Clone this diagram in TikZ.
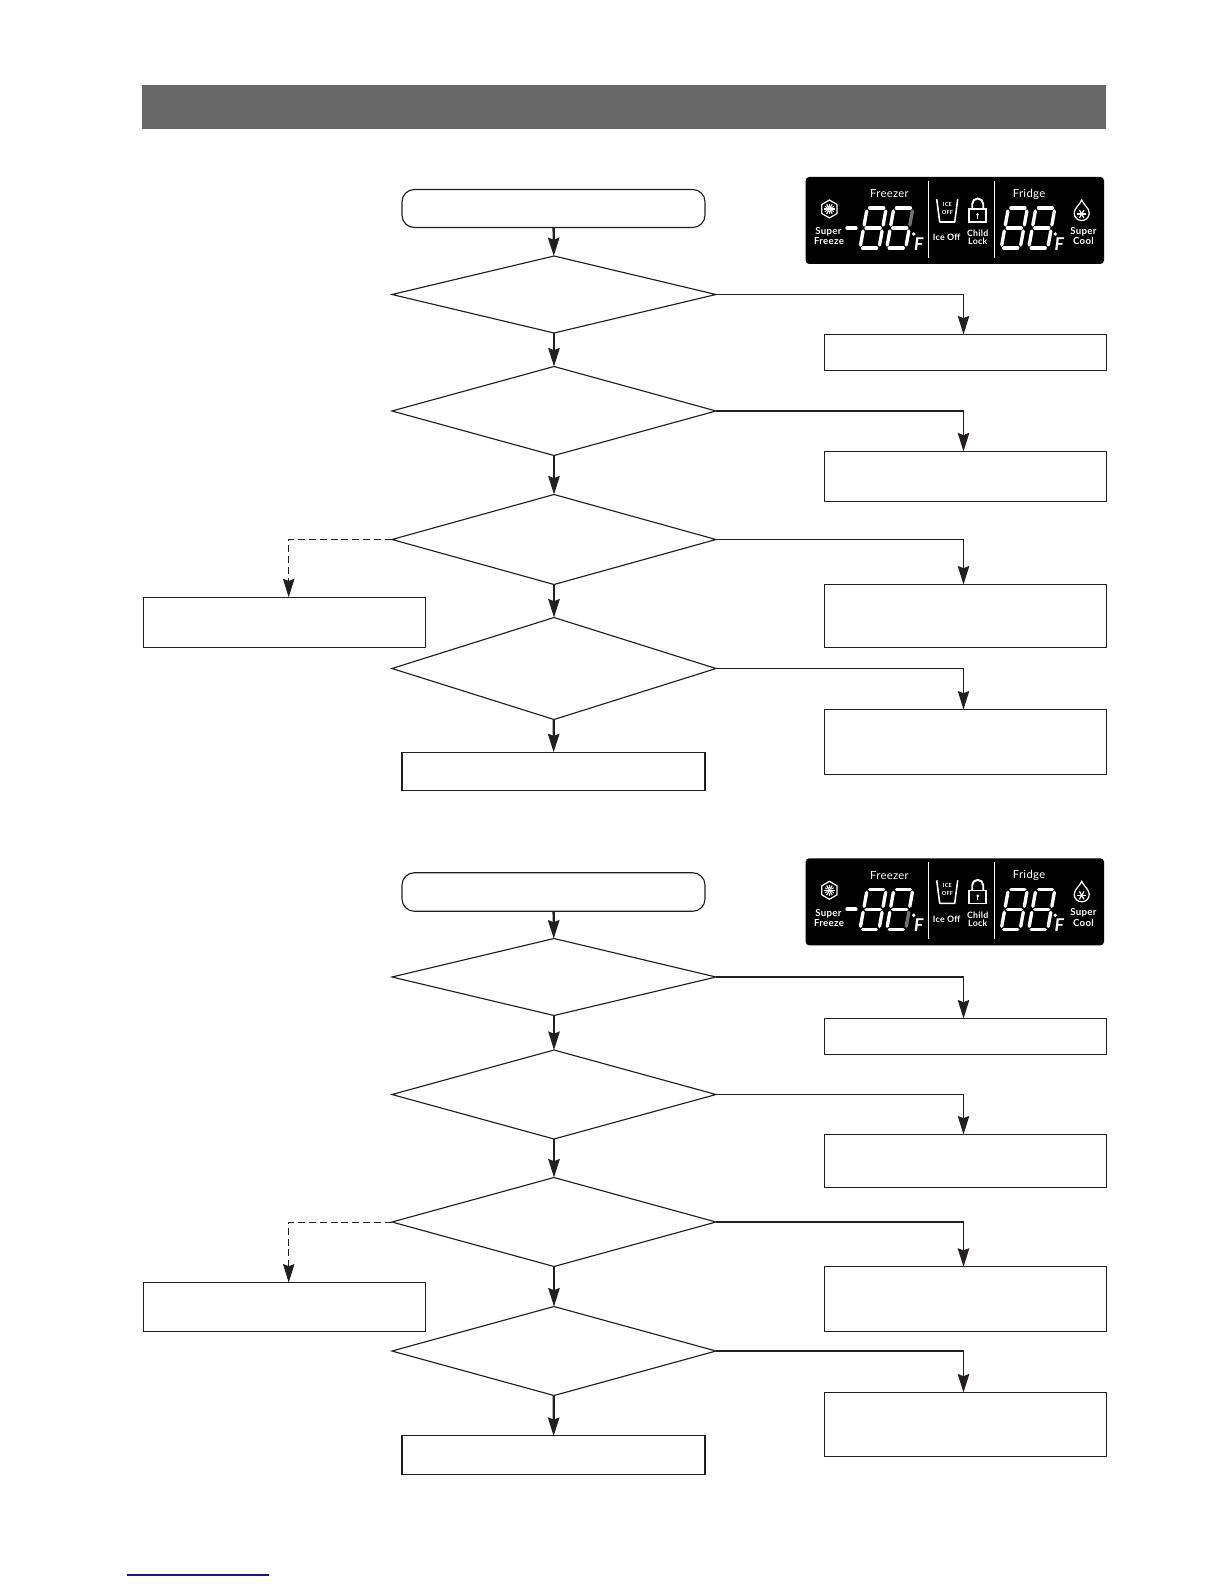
\documentclass[tikz,border=0pt]{standalone}
\usepackage{fontspec}
\setmainfont[LetterSpace=3]{Lato}
\usetikzlibrary{arrows.meta,shapes.geometric,calc}
\definecolor{ink}{HTML}{231F20}
\tikzset{
  wh/.style 2 args={minimum width=#1*0.02cm,minimum height=#2*0.02cm,inner sep=0pt,outer sep=0pt},
  flowbox/.style={draw=ink,line width=0.6pt,rectangle},
  startbox/.style={draw=ink,line width=0.65pt,rectangle,rounded corners=7pt},
  choice/.style={draw=ink,line width=0.65pt,diamond},
  flowarrow/.style={draw=ink,line width=1.3pt,-{Stealth[length=10.5pt,width=6.5pt,inset=1.2pt]}},
  sidearrow/.style={draw=ink,line width=0.6pt,-{Stealth[length=10.5pt,width=6.5pt,inset=1.2pt]}},
  heavyside/.style={draw=ink,line width=1.05pt,-{Stealth[length=10.5pt,width=6.5pt,inset=1.2pt]}},
  dasharrow/.style={draw=ink,line width=0.8pt,dash pattern=on 4pt off 2.2pt,-{Stealth[length=10.5pt,width=6.5pt,inset=1.2pt]}},
  lcdtext/.style={text=white,font=\fontsize{5.5}{6}\selectfont\bfseries,inner sep=0pt},
  lcdsmall/.style={text=white,font=\fontsize{5}{6}\selectfont\bfseries,inner sep=0pt},
  seg/.style={line width=1.9pt,line cap=round,draw=white},
}
% one seven-segment digit; origin at its lower left corner
\newcommand{\lcddigit}[4]{%
  \begin{scope}[shift={(#1,#2)},xslant=0.18]
    \draw[seg] (2.5,-40) -- (16.5,-40);
    \draw[seg] (2.5,-20) -- (16.5,-20);
    \draw[seg] (2.5,0) -- (16.5,0);
    \draw[seg] (0,-3) -- (0,-17);
    \draw[seg] (0,-23) -- (0,-37);
    \draw[seg,draw=#3] (19,-23) -- (19,-37);
    \draw[seg,draw=#4] (19,-3) -- (19,-17);
  \end{scope}}
% the display panel; #1 prefix of names, #2 top y, #3/#4 colours of the upper and lower right segments of digit two
\newcommand{\lcdpanel}[4]{%
  \node[fill=black,rounded corners=2pt,wh={298.3}{87},anchor=north west] (#1panel) at (805.7,#2) {};
  \begin{scope}[shift={(805.7,#2)}]
    \draw[white,line width=0.6pt] (122.7,4) -- (122.7,81);
    \draw[white,line width=0.6pt] (188.7,4) -- (188.7,81);
    \node[lcdtext,font=\fontsize{6.4}{7}\selectfont] (#1fz) at (83.7,17) {Freezer};
    \node[lcdtext,font=\fontsize{6.4}{7}\selectfont] (#1fr) at (223.3,17) {Fridge};
    \node[lcdtext] (#1sf1) at (22.7,55) {Super};
    \node[lcdtext] (#1sf2) at (23.3,64.3) {Freeze};
    \node[lcdsmall] (#1io) at (141,60.5) {Ice Off};
    \node[lcdsmall] (#1cl1) at (172,56.5) {Child};
    \node[lcdsmall] (#1cl2) at (172,64.5) {Lock};
    \node[lcdtext] (#1sc1) at (277.7,54.7) {Super};
    \node[lcdtext] (#1sc2) at (277.7,64.3) {Cool};
    \node[lcdtext,font=\fontsize{3.2}{4}\selectfont\bfseries] (#1ice) at (141.7,27) {ICE};
    \node[lcdtext,font=\fontsize{3.2}{4}\selectfont\bfseries] (#1off) at (141.7,35) {OFF};
    \node[lcdtext,font=\fontsize{10}{11}\selectfont\bfseries\itshape] (#1f1) at (113,67) {F};
    \node[lcdtext,font=\fontsize{10}{11}\selectfont\bfseries\itshape] (#1f2) at (253.5,67) {F};
    \fill[white] (108,57) circle (1.9);
    \fill[white] (249.5,57) circle (1.9);
    \draw[white,line width=2.2pt,line cap=round] (41.5,51) -- (50,51);
    \lcddigit{54.3}{71}{white}{white}
    \lcddigit{81}{71}{#3}{#4}
    \lcddigit{195.5}{71}{white}{white}
    \lcddigit{223}{71}{white}{white}
    % snowflake in a hexagon
    \draw[white,line width=0.7pt,line join=round] (23.7,23) -- ++(7.6,4.5) -- ++(0,9) -- ++(-7.6,4.5) -- ++(-7.6,-4.5) -- ++(0,-9) -- cycle;
    \foreach \a in {0,60,120} \draw[white,line width=0.7pt] (23.7,32) ++(\a:5.5) -- ++(\a+180:11);
    \foreach \a in {30,90,150,210,270,330} \draw[white,line width=0.5pt] (23.7,32) ++(\a:2.2) -- ++(\a:3);
    % drop
    \draw[white,line width=0.7pt] (276,23) .. controls (278,28) and (283.5,31) .. (283.5,36) .. controls (283.5,46) and (268.5,46) .. (268.5,36) .. controls (268.5,31) and (274,28) .. (276,23) -- cycle;
    \foreach \a in {0,60,120} \draw[white,line width=0.7pt] (276,37) ++(\a:4.5) -- ++(\a+180:9);
    % cup
    \draw[white,line width=0.9pt,line join=round] (131,22) -- (134,45) -- (149,45) -- (152,22);
    % padlock
    \draw[white,line width=0.9pt] (163.5,32) rectangle (180.5,45);
    \draw[white,line width=1.1pt] (166.5,32) -- (166.5,27) arc[start angle=180,end angle=0,x radius=5.5,y radius=-5.5] -- (177.5,32);
    \fill[white] (172,37.5) circle (1.5);
    \draw[white,line width=0.7pt] (172,37.5) -- (172,42);
  \end{scope}}
\begin{document}
\begin{tikzpicture}[x=0.02cm,y=-0.02cm]
\useasboundingbox (0,0) rectangle (1224,1584);
\node[fill=black!60,wh={964.5}{44.5}] (hdr) at (623.8,107.2) {};
\lcdpanel{a}{177}{black!55}{white}
\lcdpanel{b}{858.3}{white}{black!55}
% first chart
\node[startbox,wh={303}{38}] (as) at (553.5,208.5) {};
\node[choice,wh={324}{77}] (a1) at (554,294.5) {};
\node[choice,wh={324}{89}] (a2) at (554,411) {};
\node[choice,wh={324}{90}] (a3) at (554,539.5) {};
\node[choice,wh={324}{102}] (a4) at (554,668.5) {};
\node[flowbox,wh={303}{38.5}] (ae) at (553.5,771.5) {};
\node[flowbox,wh={282}{36.5}] (ar1) at (965.8,352.7) {};
\node[flowbox,wh={282}{50.5}] (ar2) at (965.8,476.7) {};
\node[flowbox,wh={282}{63}] (ar3) at (965.8,616) {};
\node[flowbox,wh={282}{65}] (ar4) at (965.8,742) {};
\node[flowbox,wh={282.4}{50}] (al) at (284.5,622.3) {};
\draw[flowarrow] (as) -- (a1);
\draw[flowarrow] (a1) -- (a2);
\draw[flowarrow] (a2) -- (a3);
\draw[flowarrow] (a3) -- (a4);
\draw[flowarrow] (a4) -- (ae);
\draw[sidearrow] (a1.east) -| ([xshift=-2.3*0.02cm]ar1.north);
\draw[heavyside] (a2.east) -| ([xshift=-2.3*0.02cm]ar2.north);
\draw[sidearrow] (a3.east) -| ([xshift=-2.3*0.02cm]ar3.north);
\draw[sidearrow] (a4.east) -| ([xshift=-2.3*0.02cm]ar4.north);
\draw[dasharrow] (a3.west) -| ([xshift=4.2*0.02cm]al.north);
% second chart
\node[startbox,wh={303}{38.5}] (bs) at (553.5,892) {};
\node[choice,wh={324}{77}] (b1) at (554,977) {};
\node[choice,wh={324}{89}] (b2) at (554,1094.5) {};
\node[choice,wh={324}{89}] (b3) at (554,1222) {};
\node[choice,wh={324}{89}] (b4) at (554,1351) {};
\node[flowbox,wh={303}{38.5}] (be) at (553.5,1455.2) {};
\node[flowbox,wh={282}{36}] (br1) at (965.8,1036.5) {};
\node[flowbox,wh={282}{53}] (br2) at (965.8,1161) {};
\node[flowbox,wh={282}{64.5}] (br3) at (965.8,1299) {};
\node[flowbox,wh={282}{64}] (br4) at (965.8,1424.5) {};
\node[flowbox,wh={282.4}{49}] (bl) at (284.5,1307) {};
\draw[flowarrow] (bs) -- (b1);
\draw[flowarrow] (b1) -- (b2);
\draw[flowarrow] (b2) -- (b3);
\draw[flowarrow] (b3) -- (b4);
\draw[flowarrow] (b4) -- (be);
\draw[heavyside] (b1.east) -| ([xshift=-2.3*0.02cm]br1.north);
\draw[sidearrow] (b2.east) -| ([xshift=-2.3*0.02cm]br2.north);
\draw[heavyside] (b3.east) -| ([xshift=-2.3*0.02cm]br3.north);
\draw[heavyside] (b4.east) -| ([xshift=-2.3*0.02cm]br4.north);
\draw[dasharrow,line width=0.5pt] (b3.west) -| ([xshift=4.2*0.02cm]bl.north);
% stray link rule at the foot of the page
\draw[color={rgb,255:red,20;green,20;blue,140},line width=0.6pt] (126.7,1575) -- (269,1575);
\end{tikzpicture}
\end{document}
